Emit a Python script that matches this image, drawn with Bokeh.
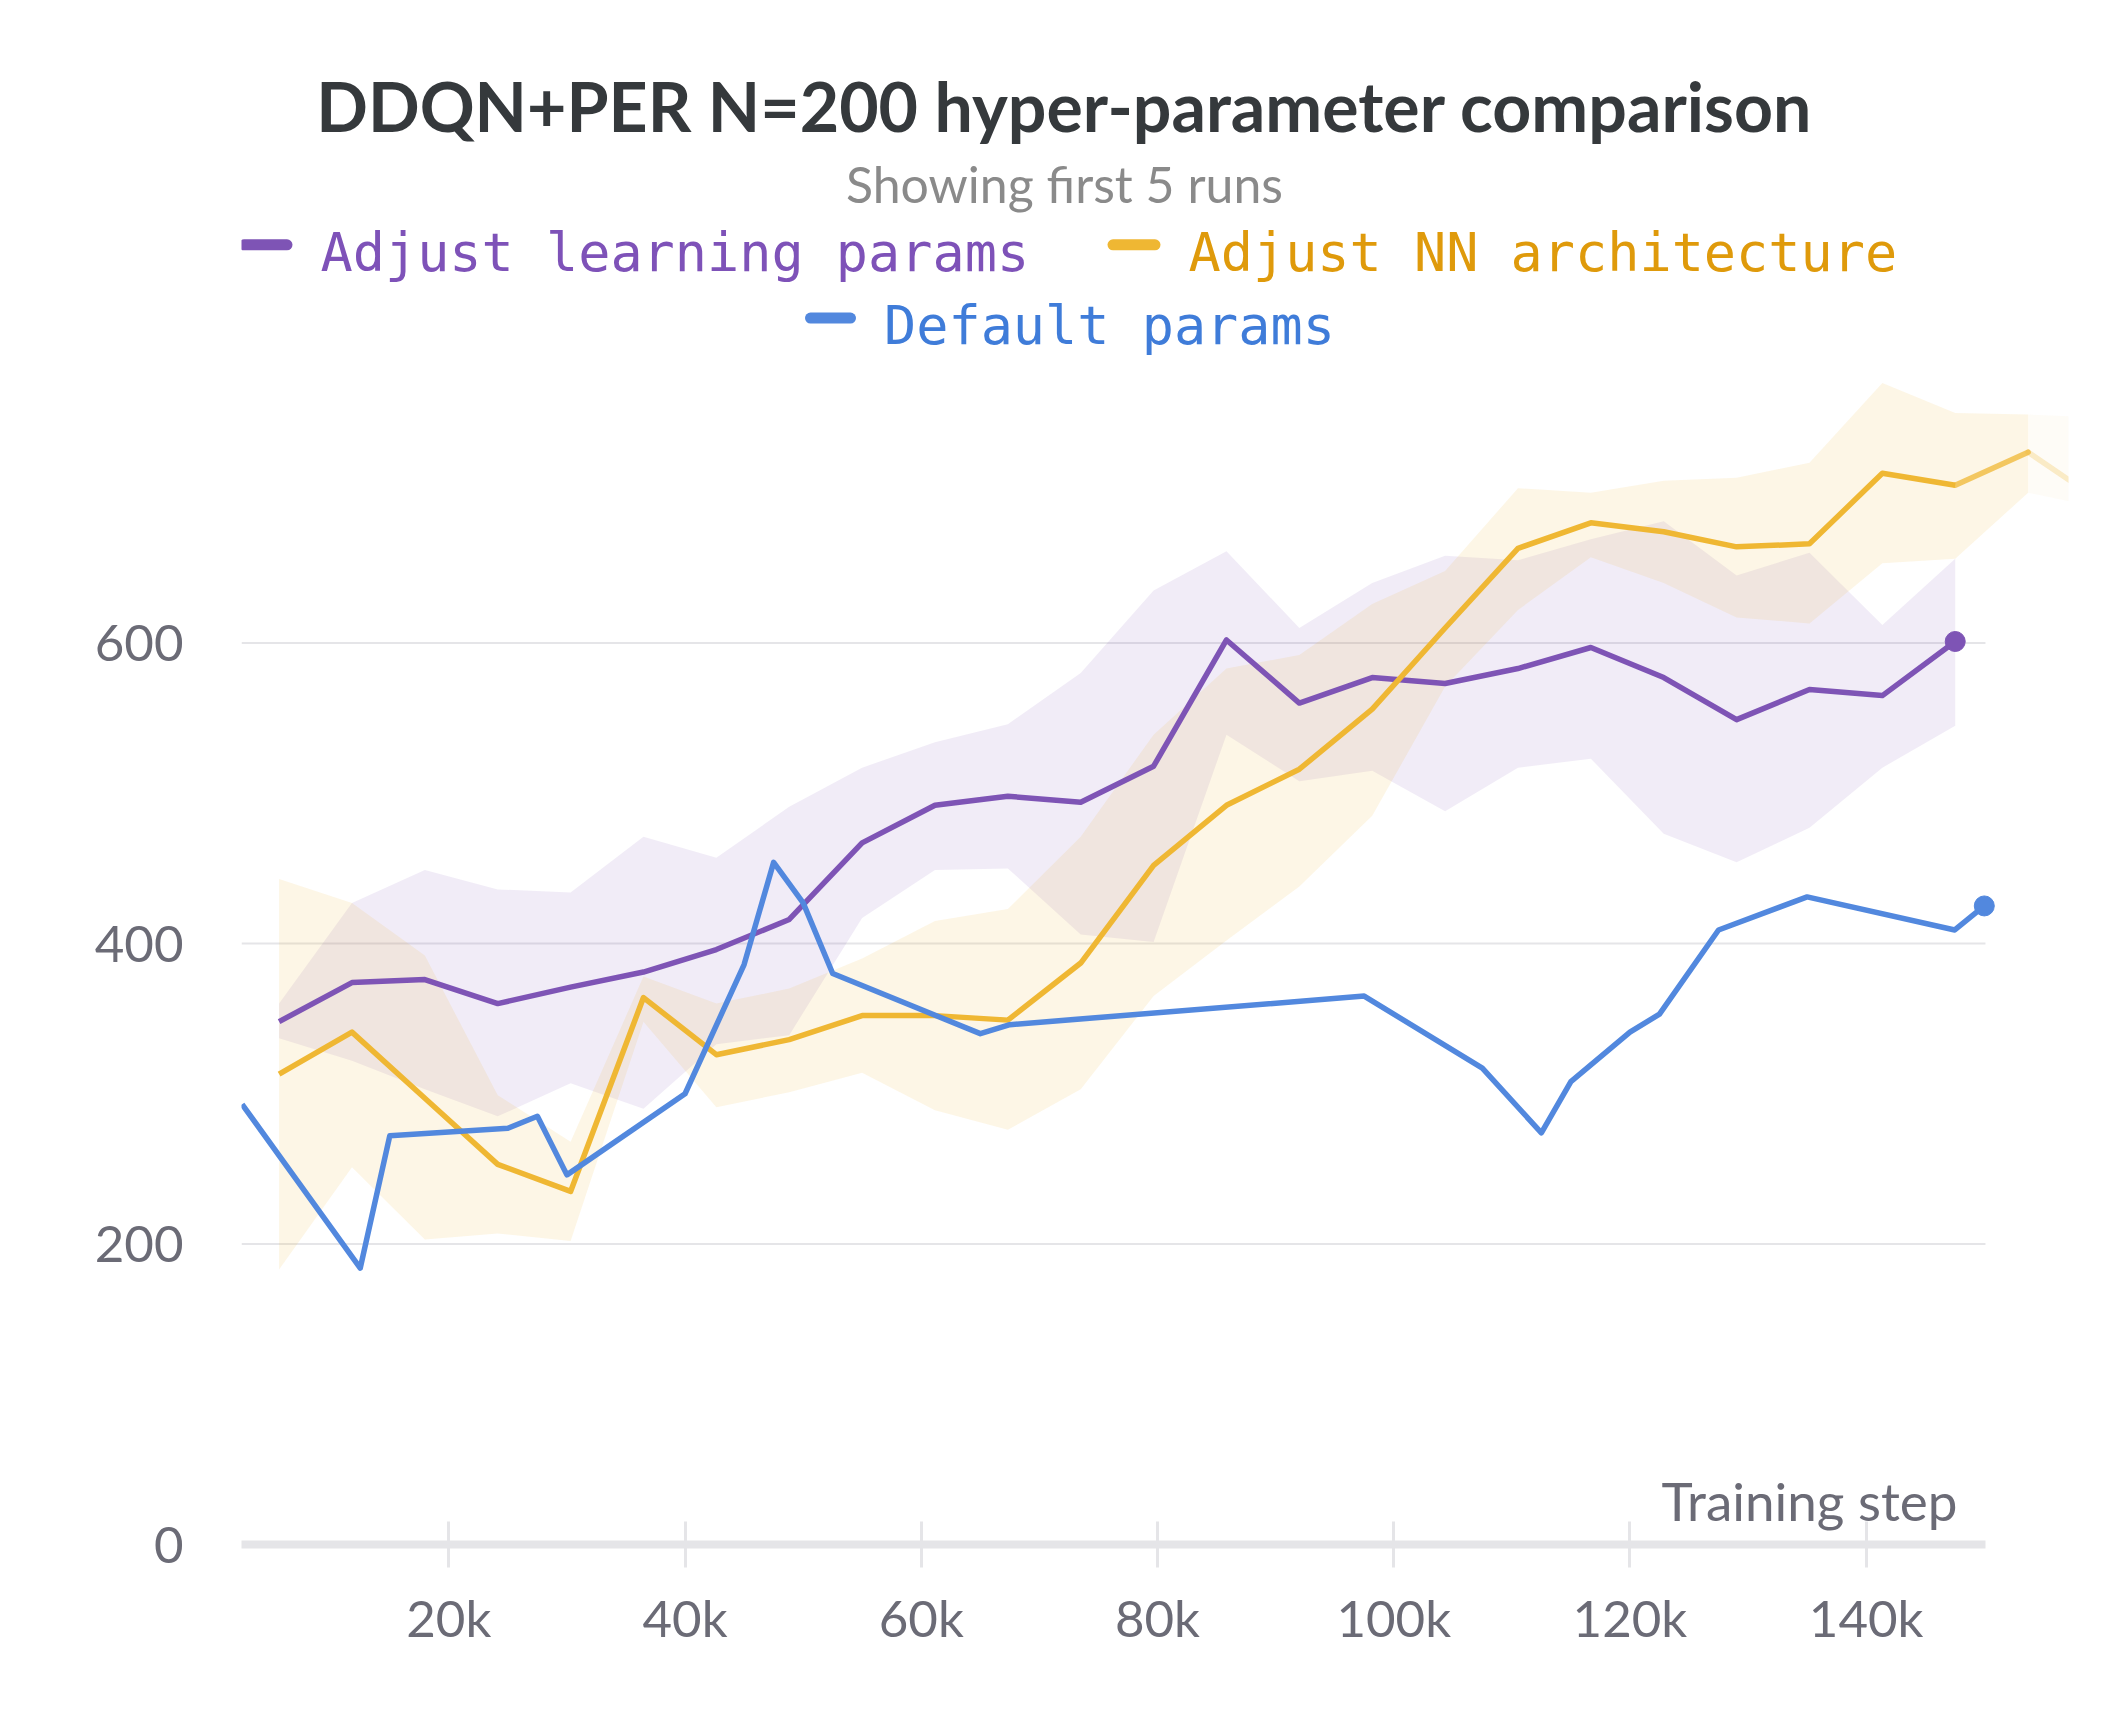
from bokeh.plotting import figure
from bokeh.models import Range1d, FixedTicker, NumeralTickFormatter, Label
from bokeh.embed import file_html
from bokeh.resources import INLINE

# ---------------- data ----------------
steps = [5630, 11800, 17970, 24140, 30310, 36480, 42650, 48820, 54990, 61160,
         67330, 73500, 79670, 85840, 92010, 98180, 104350, 110520, 116690,
         122860, 129030, 135200, 141370, 147540, 153710, 159880]

learn_mean = [348, 374, 376, 360, 371, 381, 396, 416, 467, 492, 498, 494, 518,
              602, 560, 577, 573, 583, 597, 577, 549, 569, 565, 601]
learn_upper = [360, 427, 449, 436, 434, 471, 457, 491, 517, 534, 546, 580, 635,
               661, 610, 640, 658, 655, 669, 681, 645, 660, 612, 656]
learn_lower = [337, 322, 303, 285, 307, 290, 333, 339, 417, 449, 450, 406, 401,
               539, 508, 515, 488, 517, 523, 473, 454, 477, 517, 545]

nn_mean = [313, 341, 297, 253, 235, 364, 326, 336, 352, 352, 349, 387, 452,
           492, 516, 556, 610, 663, 680, 674, 664, 666, 713, 705, 727, 694]
nn_upper = [443, 427, 392, 299, 268, 378, 360, 370, 390, 415, 423, 471, 539,
            583, 592, 626, 648, 703, 700, 708, 710, 720, 773, 753, 752, 750]
nn_lower = [183, 251, 203, 207, 202, 348, 291, 301, 314, 289, 276, 303, 365,
            402, 438, 485, 571, 622, 657, 640, 617, 613, 653, 656, 700, 690]

default_steps = [2500, 12500, 15000, 25000, 27500, 30000, 40000, 45000, 47500,
                 50000, 52500, 65000, 67500, 97500, 107500, 112500, 115000,
                 120000, 122500, 127500, 135000, 147500, 150000]
default_vals = [293, 184, 272, 277, 285, 246, 300, 386, 454, 427, 380, 340, 346,
                365, 317, 274, 308, 341, 353, 409, 431, 409, 425]

x_ticks = [20000, 40000, 60000, 80000, 100000, 120000, 140000]
y_ticks = [0, 200, 400, 600]

series_names = ["Adjust learning params", "Adjust NN architecture", "Default params"]

# ---------------- style ----------------
PURPLE = "#7e54b5"
YELLOW = "#efb733"
BLUE = "#5288de"
TXT_PURPLE = "#7e52b8"
TXT_YELLOW = "#df9a0b"
TXT_BLUE = "#3f7cd9"
TICK_COLOR = "#6b6b76"
LIGHT = "#e5e5e8"
LW = 5.5

W, H = 2112, 1712
LEFT, RIGHT, BOTTOM = 241, 44, 168
X0, X1 = 2447, 157130
frame_w = W - LEFT - RIGHT
frame_b = H - BOTTOM
ppx = frame_w / (X1 - X0)
ppy = 1.5025
Y1 = frame_b / ppy
GRID_END = 150100


def dx(cx):
    return X0 + (cx - LEFT) / ppx


def dy(cy):
    return (frame_b - cy) / ppy


def base(cy, size):
    # compensate the svg baseline offset of text labels
    return dy(cy - 0.37 * size)


p = figure(width=W, height=H, x_range=Range1d(X0, X1), y_range=Range1d(0, Y1),
           output_backend="svg", toolbar_location=None, title=None,
           min_border_left=LEFT, min_border_right=RIGHT, min_border_top=0,
           min_border_bottom=BOTTOM)
p.grid.visible = False
p.outline_line_color = None
p.background_fill_color = "white"
p.border_fill_color = "white"

# x axis
xa = p.xaxis[0]
xa.ticker = FixedTicker(ticks=x_ticks)
xa.formatter = NumeralTickFormatter(format="0a")
xa.bounds = (X0, GRID_END)
xa.axis_line_color = LIGHT
xa.axis_line_width = 8
xa.major_tick_in = 23
xa.major_tick_out = 23
xa.major_tick_line_color = LIGHT
xa.major_tick_line_width = 3
xa.minor_tick_line_color = None
xa.major_label_text_font = "Lato"
xa.major_label_text_font_size = "51px"
xa.major_label_text_color = TICK_COLOR
xa.major_label_standoff = 19

# y axis
ya = p.yaxis[0]
ya.ticker = FixedTicker(ticks=y_ticks)
ya.axis_line_color = None
ya.major_tick_line_color = None
ya.minor_tick_line_color = None
ya.major_tick_in = 0
ya.major_tick_out = 0
ya.major_label_text_font = "Lato"
ya.major_label_text_font_size = "51px"
ya.major_label_text_color = TICK_COLOR
ya.major_label_standoff = 58

# grid lines (stop at the end of the x axis like the original)
grid_vals = [v for v in y_ticks if v > 0]
p.segment(x0=[X0] * len(grid_vals), x1=[GRID_END] * len(grid_vals),
          y0=grid_vals, y1=grid_vals, line_color=LIGHT, line_width=2)

n = len(learn_mean)
# bands
p.varea(x=steps[:n], y1=learn_lower, y2=learn_upper, fill_color=PURPLE, fill_alpha=0.11)
p.varea(x=steps[:n + 1], y1=nn_lower[:n + 1], y2=nn_upper[:n + 1], fill_color=YELLOW, fill_alpha=0.12)
p.varea(x=steps[n:], y1=nn_lower[n:], y2=nn_upper[n:], fill_color=YELLOW, fill_alpha=0.04)

# lines
p.line(steps[:n], learn_mean, line_color=PURPLE, line_width=LW, line_join="round")
p.line(steps[:n], nn_mean[:n], line_color=YELLOW, line_width=LW, line_join="round")
p.segment(x0=steps[n - 1:-1], x1=steps[n:], y0=nn_mean[n - 1:-1], y1=nn_mean[n:],
          line_color=YELLOW, line_width=LW, line_alpha=[0.75, 0.25], line_cap="round")
p.line(default_steps, default_vals, line_color=BLUE, line_width=LW, line_join="round")
p.scatter([steps[n - 1]], [learn_mean[-1]], size=20, color=PURPLE)
p.scatter([default_steps[-1]], [default_vals[-1]], size=20, color=BLUE)

# title & subtitle
p.add_layout(Label(x=dx(1064), y=base(130, 68), text="DDQN+PER N=200 hyper-parameter comparison",
                   text_font="Lato", text_font_size="68px", text_font_style="bold",
                   text_color="#35393c", text_align="center", text_baseline="alphabetic"))
p.add_layout(Label(x=dx(1064), y=base(201.5, 50), text="Showing first 5 runs",
                   text_font="Lato", text_font_size="50px", text_color="#8a8a8a",
                   text_align="center", text_baseline="alphabetic"))

# legend
leg_x0 = [dx(243.5), dx(1112.5), dx(810)]
leg_x1 = [dx(286.5), dx(1154.5), dx(850)]
leg_y = [dy(244.3), dy(244.3), dy(317.6)]
p.segment(x0=leg_x0, x1=leg_x1, y0=leg_y, y1=leg_y,
          line_color=[PURPLE, YELLOW, BLUE], line_width=11, line_cap="round")
text_pos = [(320, 271.7), (1188, 271.7), (883.5, 345)]
text_cols = [TXT_PURPLE, TXT_YELLOW, TXT_BLUE]
for name, (cx, cy), col in zip(series_names, text_pos, text_cols):
    p.add_layout(Label(x=dx(cx), y=base(cy, 53.5), text=name, text_font="DejaVu Sans Mono",
                       text_font_size="53.5px", text_color=col, text_align="left",
                       text_baseline="alphabetic"))

# axis title
p.add_layout(Label(x=dx(1957), y=base(1520, 53), text="Training step", text_font="Lato",
                   text_font_size="53px", text_color=TICK_COLOR, text_align="right",
                   text_baseline="alphabetic"))

open("out.html", "w").write(file_html(p, INLINE))
